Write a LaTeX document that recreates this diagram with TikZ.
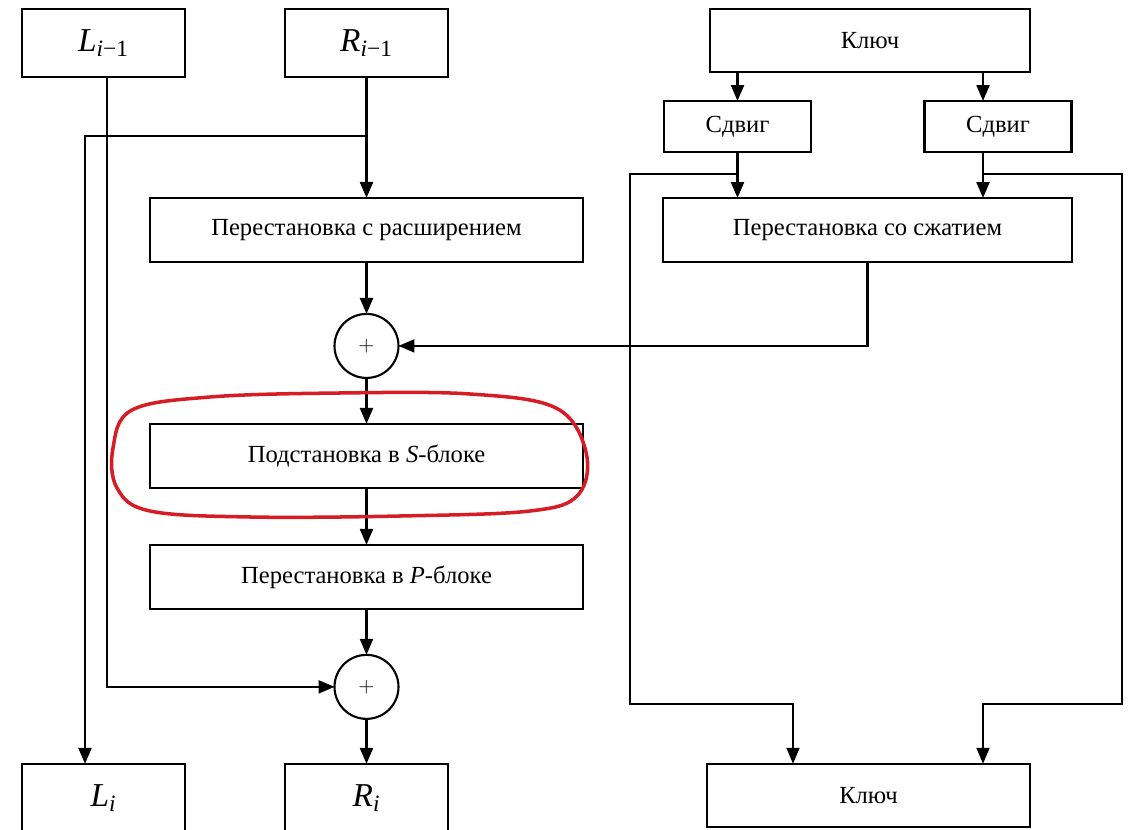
\documentclass[tikz,border=0pt]{standalone}
\usepackage{fontspec}
\setmainfont{Liberation Serif}
\usepackage{tikz}
\usetikzlibrary{positioning, calc}
\usetikzlibrary{arrows.meta}
\usepackage{xcolor}
\definecolor{markred}{RGB}{214,28,36}

\begin{document}
\begin{tikzpicture}[
                x=0.02cm, y=-0.02cm,
                halfbox/.style={rectangle, draw, line width=1.3pt, outer sep=0pt, minimum width=3.26cm, minimum height=1.36cm, inner sep=0pt, font=\fontsize{19}{22}\selectfont},
                block/.style={rectangle, draw, line width=1.3pt, outer sep=0pt, minimum width=8.66cm, minimum height=1.28cm, inner sep=0pt, font=\fontsize{14}{16}\selectfont},
                keybox/.style={rectangle, draw, line width=1.3pt, outer sep=0pt, minimum width=6.4cm, minimum height=1.27cm, inner sep=0pt, font=\fontsize{14}{16}\selectfont},
                shiftbox/.style={rectangle, draw, line width=1.3pt, outer sep=0pt, minimum width=2.94cm, minimum height=1.02cm, inner sep=0pt, font=\fontsize{14}{16}\selectfont},
                xorop/.style={circle, draw, line width=1.2pt, outer sep=0pt, minimum size=1.28cm, inner sep=0pt, font=\fontsize{13}{15}\selectfont},
                line/.style={draw, line width=1.3pt, -{Triangle[length=3.2mm, width=2.6mm]}},
                loop/.style={draw, line width=1.1pt, -{Triangle[length=3.2mm, width=2.6mm]}}
            ]
                \useasboundingbox (0,0) rectangle (1129,830);

                % Feistel half: data path
                \node[halfbox] (Rprev) at (366.5,43) {\itshape R\textsubscript{\itshape i\upshape −1}};
                \node[halfbox, left=2cm of Rprev] (Lprev) {\itshape L\textsubscript{\itshape i\upshape −1}};
                \node[block, below=2.42cm of Rprev] (ext) {Перестановка с расширением};
                \node[xorop, below=1.04cm of ext] (xor1) {$+$};
                \node[block, below=0.92cm of xor1] (sbox) {Подстановка в \textit{S}-блоке};
                \node[block, below=1.14cm of sbox] (pbox) {Перестановка в \textit{P}-блоке};
                \node[xorop, below=0.92cm of pbox] (xor2) {$+$};
                \node[halfbox, below=0.9cm of xor2] (Rnext) {\itshape R\textsubscript{\itshape i}};
                \node[halfbox, left=2cm of Rnext] (Lnext) {\itshape L\textsubscript{\itshape i}};

                \coordinate (split) at (366.5,136);
                \coordinate (colL) at (85,0);
                \coordinate (colK) at (107,0);

                \path[line] (Rprev) -- (ext);
                \path[line] (split) -| (colL |- Lnext.north);
                \path[line] (colK |- Lprev.south) |- (xor2.west);
                \path[line] (ext) -- (xor1);
                \path[line] (xor1) -- (sbox);
                \path[line] (sbox) -- (pbox);
                \path[line] (pbox) -- (xor2);
                \path[line] (xor2) -- (Rnext);

                % Key schedule
                \node[keybox] (keyin) at (870,40.5) {Ключ};
                \node[shiftbox] (shiftA) at (737.5,126.5) {Сдвиг};
                \node[shiftbox] (shiftB) at (998,126.5) {Сдвиг};
                \node[block, minimum width=8.18cm] (comp) at (867.5,230) {Перестановка со сжатием};
                \node[keybox, minimum width=6.46cm] (keyout) at (868.5,795.5) {Ключ};

                \coordinate (colB) at (983,0);
                \coordinate (colC) at (793,0);
                \coordinate (tapA) at (737.5,174);
                \coordinate (tapB) at (983,174);
                \coordinate (loopL) at (630,704);
                \coordinate (loopR) at (1122,704);

                \path[line] (keyin.south -| shiftA) -- (shiftA);
                \path[line] (keyin.south -| colB) -- (shiftB.north -| colB);
                \path[line] (shiftA) -- (shiftA |- comp.north);
                \path[line] (shiftB.south -| colB) -- (comp.north -| colB);
                \path[line] (comp.south) |- (xor1.east);
                \path[loop] (tapA) -| (loopL) -| (colC |- keyout.north);
                \path[loop] (tapB) -| (loopR) -| (colB |- keyout.north);

                % hand-drawn highlight
                \draw[markred, line width=2pt] plot[smooth cycle, tension=0.6] coordinates {
                    (132,410) (210,397) (340,393) (470,394) (556,408) (586,452) (578,495)
                    (530,511) (400,516) (250,517) (150,511) (117,488) (113,448)};
            \end{tikzpicture}
\end{document}
